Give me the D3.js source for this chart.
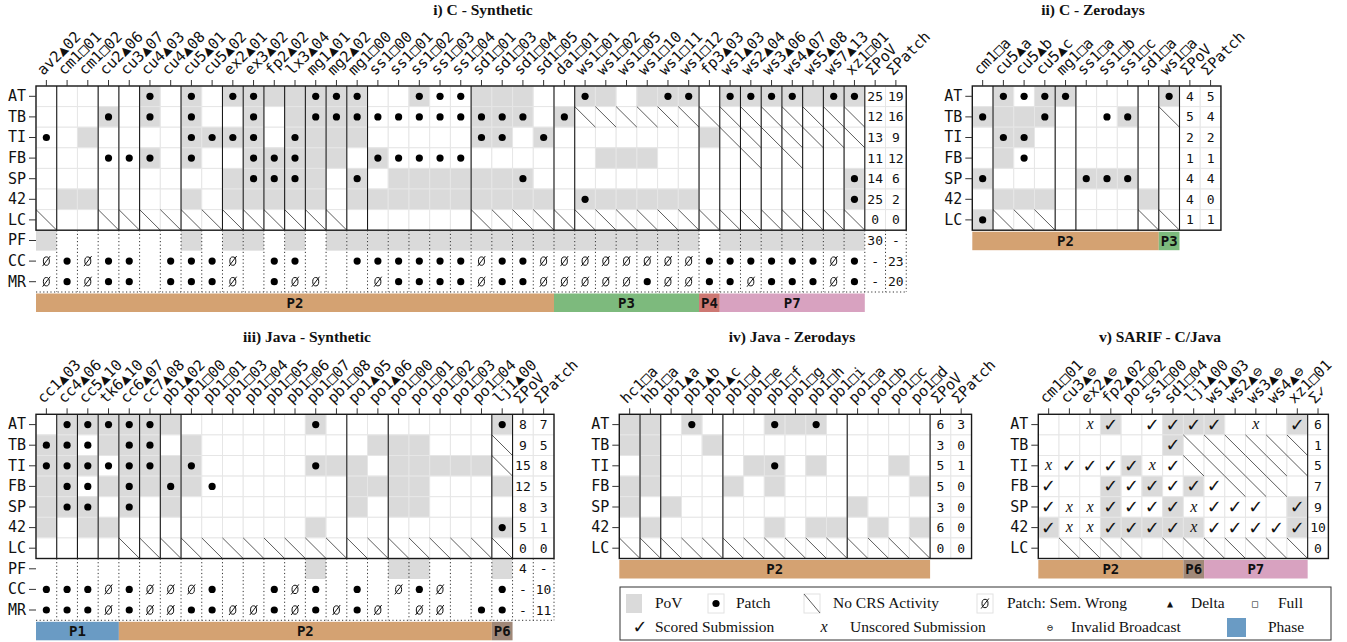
<!DOCTYPE html>
<html>
<head>
<meta charset="utf-8">
<script src="https://cdn.jsdelivr.net/npm/d3@7"></script>
<style>
  body { margin: 0; background: #fff; }
  text { font-family: "DejaVu Sans Mono", monospace; fill: #111; }
</style>
</head>
<body>
<svg id="chart" width="1347" height="642"></svg>
<script>
// rows shared by every panel
const rowsMain = ['AT', 'TB', 'TI', 'FB', 'SP', '42', 'LC'];
const rowsExtra = ['PF', 'CC', 'MR'];

// cell codes: . empty, g PoV, o patch, O PoV+patch, h no CRS activity,
// z patch semantically wrong, v/V scored (white/PoV), u/U unscored (white/PoV)

// i) C - Synthetic
const colsCSyn = ['av2▲02', 'cm1□01', 'cm1□02', 'cu2▲06', 'cu3▲07', 'cu4▲03', 'cu4▲08', 'cu5▲01', 'cu5▲02', 'ex2▲01',
  'ex3▲02', 'fp2▲02', 'lx3▲04', 'mg1▲01', 'mg2▲02', 'mg1□00', 'ss1□00', 'ss1□01', 'ss1□02', 'ss1□03',
  'ss1□04', 'sd1□01', 'sd1□03', 'sd1□04', 'sd1□05', 'da1□01', 'ws1□01', 'ws1□02', 'ws1□05', 'ws1□10',
  'ws1□11', 'ws1□12', 'fp3▲03', 'ws1▲03', 'ws2▲04', 'ws3▲06', 'ws4▲07', 'ws5▲08', 'ws7▲13', 'xz1□01'];
const cellsCSyn = [
  '.....O.O.O' + 'OggOOO..Oo' + 'oggg..Og.g' + 'OO.OOOOgOO',
  '...O.O.O..' + 'O.gOOOoooo' + 'oOOO.Ohhhh' + 'hhhhhhhhhh',
  'o.g....OOO' + 'O.Oggg....' + '.OO.O.....' + '..ghhhhhhh',
  '...ooO.O..' + 'OOOgg.Oooo' + 'o......ggg' + '....h.h...',
  '.........g' + 'OOOg.O.ggg' + 'gggO......' + '.........O',
  '.gg....g.g' + 'gggg.ggggg' + 'ggggg.Oggg' + 'gg.......O',
  'h..hhhhhhh' + 'hhhhh.....' + '.hhhhhhhhh' + 'hhhhhhhhhh'
];
const extraCSyn = [
  'g......g.g' + 'g.g.gggggg' + 'gggggggggg' + 'gg.ggggggg',
  'zozoo.oooz' + '.oo..ooooo' + 'ozoozzzzzz' + 'zzoooooozo',
  'zozoo.oooz' + '.ozz..zooo' + 'ozoozzzzzo' + 'zzoozooozo'
];
const povCSyn = [25, 12, 13, 11, 14, 25, 0, 30, '-', '-'];
const patchCSyn = [19, 16, 9, 12, 6, 2, 0, '-', 23, 20];
const phasesCSyn = [['P2', 25], ['P3', 7], ['P4', 1], ['P7', 7]];

// ii) C - Zerodays
const colsCZero = ['cm1□a', 'cu5▲a', 'cu5▲b', 'cu5▲c', 'mg1□a', 'ss1□a', 'ss1□b', 'ss1□c', 'sd1□a', 'ws1□a'];
const cellsCZero = ['.OoOO....O', 'OggO..oO.h', '.OO.......', '.go.......', 'O....OOO..', '.ggg....g.', 'Ohhh....hh'];
const povCZero = [4, 5, 2, 1, 4, 4, 1];
const patchCZero = [5, 4, 2, 1, 4, 0, 1];
const phasesCZero = [['P2', 9], ['P3', 1]];

// iii) Java - Synthetic
const colsJSyn = ['cc1▲03', 'cc4▲06', 'cc5▲10', 'tk6▲10', 'cc6▲07', 'cc7▲08', 'pb1▲02', 'pb1□00', 'pb1□01', 'pb1□03',
  'pb1□04', 'pb1□05', 'pb1□06', 'pb1□07', 'pb1□08', 'po1▲05', 'po1▲06', 'po1□00', 'po1□01', 'po1□02',
  'po1□03', 'po1□04', 'lj1▲00'];
const cellsJSyn = [
  '.OOOOOg...' + '...O......' + '..O',
  'OOogOO.g..' + '......ggg.' + '..h',
  'OOOoOOgO..' + '...Ogg.ggg' + 'ggh',
  'gOogOgOgo.' + '.....gggg.' + '..g',
  'gOO.O.g...' + '.....g.gg.' + '...',
  'g.gg......' + '...g......' + '..O',
  '....hhhhhh' + 'hhhhhhhhhh' + 'hhh'
];
const extraJSyn = [
  '..........' + '...g...gg.' + '..g',
  'ooozozzzo.' + '.ozo.o.zoz' + '..o',
  'ooozozzooz' + 'zozozoz.zz' + '.oo'
];
const povJSyn = [8, 9, 15, 12, 8, 5, 0, 4, '-', '-'];
const patchJSyn = [7, 5, 8, 5, 3, 1, 0, '-', 10, 11];
const phasesJSyn = [['P1', 4], ['P2', 18], ['P6', 1]];

// iv) Java - Zerodays
const colsJZero = ['hc1□a', 'hb1□a', 'pb1▲a', 'pb1▲b', 'pb1▲c', 'pb1□d', 'pb1□e', 'pb1□f', 'pb1□g', 'pb1□h',
  'pb1□i', 'po1□a', 'po1□b', 'po1□c', 'po1□d'];
const cellsJZero = ['gg.O...OgO.....', 'gg..g..........', '.g....gO.g...g.', 'gg...g.g......g',
  'g.g........g...', '.g.....g.gg.g.g', 'hhhhhhhhhhhhhhh'];
const povJZero = [6, 3, 5, 5, 3, 6, 0];
const patchJZero = [3, 0, 1, 0, 0, 0, 0];
const phasesJZero = [['P2', 15]];

// v) SARIF - C/Java
const colsSarif = ['cm1□01', 'cu3▲⊖', 'ex2▲⊖', 'fp2▲02', 'po1□02', 'ss1□00', 'sd1□04', 'lj1▲00', 'ws1▲03', 'ws2▲⊖',
  'ws3▲⊖', 'ws4▲⊖', 'xz1□01'];
const cellsSarif = ['..uV.vVVV.u.V', '......Vhhhhhh', 'uvvvVuvhhhhhh', 'v..VvVvVvhhh.',
  'vuuVvvVuvvv.V', 'VuuVVVVUvvvvV', '.hhhh.hhhhhhh'];
const scoredSarif = [6, 1, 5, 7, 9, 10, 0];
const phasesSarif = [['P2', 7], ['P6', 1], ['P7', 5]];

const svg = d3.select('#chart');
const CW = 20.72, RH = 20.6;
const GRAY = '#dadada', GRID = '#e6e6e6', INK = '#1a1a1a';
const SERIF = '"Liberation Serif", "Times New Roman", serif';
const phaseColor = { P1: '#6a9bc4', P2: '#d4a272', P3: '#7dba7d', P4: '#cd7873', P6: '#a08878', P7: '#d8a2c0' };
const groupKey = s => s.slice(0, s.search(/[▲□]/) + 1);

// slashed-zero mark for "patch: semantically wrong"
function emptySet(sel) {
  sel.append('ellipse').attr('rx', 3).attr('ry', 4.2)
    .attr('fill', 'none').attr('stroke', '#111').attr('stroke-width', 1);
  sel.append('line').attr('x1', -3.8).attr('y1', 5).attr('x2', 3.8).attr('y2', -5)
    .attr('stroke', '#111').attr('stroke-width', 1);
}
function check(sel, size) {
  sel.append('text').attr('text-anchor', 'middle').attr('y', 6).attr('font-size', size)
    .style('font-family', '"DejaVu Sans", sans-serif').text('✓');
}
function cross(sel) {
  sel.append('text').attr('text-anchor', 'middle').attr('y', 4.5).attr('font-size', 16)
    .attr('font-style', 'italic').style('font-family', SERIF).text('x');
}

function drawPanel(p) {
  const nc = p.cols.length;
  const labels = p.cols.concat(p.sumLabels);
  const nt = labels.length;
  const rows = p.extra ? rowsMain.concat(rowsExtra) : rowsMain;
  const x = d3.scaleBand().domain(d3.range(nt)).range([p.x0, p.x0 + nt * CW]);
  const y = d3.scaleBand().domain(rows).range([p.y0, p.y0 + rows.length * RH]);
  const xEnd = x.range()[1];
  const yTop = p.y0, yMid = y('LC') + y.bandwidth(), yBot = y.range()[1];
  const bw = x.bandwidth(), bh = y.bandwidth();
  const g = svg.append('g');
  const center = d => `translate(${x(d.i) + bw / 2},${y(d.row) + bh / 2})`;

  const cells = [];
  p.cells.concat(p.extra || []).forEach((s, r) =>
    [...s].forEach((c, i) => cells.push({ row: rows[r], i, c, top: r < rowsMain.length })));
  const sums = [];
  p.sums.forEach((col, j) => col.forEach((v, r) =>
    sums.push({ row: rows[r], i: nc + j, v, top: r < rowsMain.length })));

  g.append('g').selectAll('rect').data(cells.concat(sums)).join('rect')
    .attr('x', d => x(d.i)).attr('y', d => y(d.row))
    .attr('width', bw).attr('height', bh)
    .attr('fill', d => d.c && 'gOVU'.includes(d.c) ? GRAY : '#fff')
    .attr('stroke', d => d.top ? GRID : 'none');

  g.append('g').selectAll('line').data(cells.filter(d => d.c === 'h')).join('line')
    .attr('x1', d => x(d.i)).attr('y1', d => y(d.row))
    .attr('x2', d => x(d.i) + bw).attr('y2', d => y(d.row) + bh)
    .attr('stroke', '#4a4a4a').attr('stroke-width', 0.9);

  g.append('g').selectAll('circle').data(cells.filter(d => 'oO'.includes(d.c))).join('circle')
    .attr('cx', d => x(d.i) + bw / 2).attr('cy', d => y(d.row) + bh / 2)
    .attr('r', 3.6).attr('fill', '#000');

  g.append('g').selectAll('g').data(cells.filter(d => d.c === 'z')).join('g')
    .attr('transform', center).each(function () { emptySet(d3.select(this)); });

  g.append('g').selectAll('g').data(cells.filter(d => 'vV'.includes(d.c))).join('g')
    .attr('transform', center).each(function () { check(d3.select(this), 18); });

  g.append('g').selectAll('g').data(cells.filter(d => 'uU'.includes(d.c))).join('g')
    .attr('transform', center).each(function () { cross(d3.select(this)); });

  g.append('g').selectAll('text').data(sums).join('text')
    .attr('x', d => x(d.i) + bw / 2).attr('y', d => y(d.row) + bh / 2 + 4.5)
    .attr('text-anchor', 'middle').attr('font-size', 13).text(d => d.v);

  // group separators and the data / sum divider
  const seps = d3.range(1, nc)
    .filter(i => p.groups && groupKey(p.cols[i]) !== groupKey(p.cols[i - 1]))
    .concat([nc]);
  g.append('g').selectAll('line').data(seps).join('line')
    .attr('x1', i => x(i)).attr('x2', i => x(i)).attr('y1', yTop).attr('y2', yMid)
    .attr('stroke', INK).attr('stroke-width', 1.1);

  g.append('rect').attr('x', p.x0).attr('y', yTop)
    .attr('width', xEnd - p.x0).attr('height', yMid - yTop)
    .attr('fill', 'none').attr('stroke', INK).attr('stroke-width', 1.4);

  if (p.extra) {
    g.append('g').selectAll('line').data(d3.range(1, nt + 1)).join('line')
      .attr('x1', i => x(0) + i * x.step()).attr('x2', i => x(0) + i * x.step())
      .attr('y1', yMid).attr('y2', yBot)
      .attr('stroke', '#333').attr('stroke-dasharray', '1.2,2.4');
    g.append('line').attr('x1', p.x0).attr('x2', xEnd).attr('y1', yBot).attr('y2', yBot)
      .attr('stroke', '#333').attr('stroke-dasharray', '1.2,2.4');
  }

  // axes
  g.append('g').attr('transform', `translate(${p.x0},0)`)
    .call(d3.axisLeft(y).tickSize(7).tickPadding(3))
    .call(a => a.select('.domain').remove())
    .attr('font-family', '"DejaVu Sans Mono", monospace').attr('font-size', 15)
    .call(a => a.selectAll('line').attr('stroke', '#333'));

  g.append('g').attr('transform', `translate(0,${p.y0})`)
    .call(d3.axisTop(x).tickSize(6).tickFormat(i => labels[i]))
    .call(a => a.select('.domain').remove())
    .attr('font-family', '"DejaVu Sans Mono", monospace').attr('font-size', 15)
    .call(a => a.selectAll('line').attr('stroke', '#333'))
    .call(a => a.selectAll('text')
      .attr('text-anchor', 'start').attr('y', null).attr('dy', null)
      .attr('transform', 'translate(-3,-10) rotate(-45)'));

  // phases
  let acc = 0;
  const ph = p.phases.map(([name, n]) => { const d = { name, a: acc, b: acc + n }; acc += n; return d; });
  const py = yBot + 1.5, phH = 18.5;
  g.append('g').selectAll('rect').data(ph).join('rect')
    .attr('x', d => x(d.a)).attr('y', py)
    .attr('width', d => x(d.b) - x(d.a)).attr('height', phH)
    .attr('fill', d => phaseColor[d.name]);
  g.append('g').selectAll('text').data(ph).join('text')
    .attr('x', d => (x(d.a) + x(d.b)) / 2).attr('y', py + 14)
    .attr('text-anchor', 'middle').attr('font-size', 14).attr('font-weight', 'bold')
    .text(d => d.name);

  svg.append('text').attr('x', p.tx).attr('y', p.ty).attr('text-anchor', 'middle')
    .style('font-family', SERIF).attr('font-weight', 'bold').attr('font-size', 15.5)
    .text(p.title);
}

drawPanel({ title: 'i) C - Synthetic', tx: 483, ty: 15, x0: 36, y0: 86, cols: colsCSyn, cells: cellsCSyn,
  extra: extraCSyn, sums: [povCSyn, patchCSyn], sumLabels: ['ΣPoV', 'ΣPatch'], phases: phasesCSyn, groups: true });
drawPanel({ title: 'ii) C - Zerodays', tx: 1093, ty: 15, x0: 972.3, y0: 86, cols: colsCZero, cells: cellsCZero,
  extra: null, sums: [povCZero, patchCZero], sumLabels: ['ΣPoV', 'ΣPatch'], phases: phasesCZero, groups: true });
drawPanel({ title: 'iii) Java - Synthetic', tx: 307, ty: 342, x0: 36, y0: 414.3, cols: colsJSyn, cells: cellsJSyn,
  extra: extraJSyn, sums: [povJSyn, patchJSyn], sumLabels: ['ΣPoV', 'ΣPatch'], phases: phasesJSyn, groups: true });
drawPanel({ title: 'iv) Java - Zerodays', tx: 792, ty: 342, x0: 619.3, y0: 414.3, cols: colsJZero, cells: cellsJZero,
  extra: null, sums: [povJZero, patchJZero], sumLabels: ['ΣPoV', 'ΣPatch'], phases: phasesJZero, groups: true });
drawPanel({ title: 'v) SARIF - C/Java', tx: 1160, ty: 342, x0: 1038.3, y0: 414.3, cols: colsSarif, cells: cellsSarif,
  extra: null, sums: [scoredSarif], sumLabels: ['Σ✓'], phases: phasesSarif, groups: false });

// legend
const lg = svg.append('g');
lg.append('rect').attr('x', 620).attr('y', 587).attr('width', 711).attr('height', 53)
  .attr('fill', 'none').attr('stroke', '#333');
const box = (bx, fill) => lg.append('rect').attr('x', bx).attr('y', 594).attr('width', 16).attr('height', 19)
  .attr('fill', fill).attr('stroke', fill === GRAY ? 'none' : '#e2e2e2');
const ltext = (tx, ty, s) => lg.append('text').attr('x', tx).attr('y', ty)
  .style('font-family', SERIF).attr('font-size', 15.5).text(s);
const at = (ax, ay) => lg.append('g').attr('transform', `translate(${ax},${ay})`);

box(626, GRAY); ltext(655, 608, 'PoV');
box(708, '#fff'); lg.append('circle').attr('cx', 716).attr('cy', 603.5).attr('r', 3.6).attr('fill', '#000');
ltext(736, 608, 'Patch');
box(804, '#fff'); lg.append('line').attr('x1', 804).attr('y1', 594).attr('x2', 820).attr('y2', 613)
  .attr('stroke', '#4a4a4a').attr('stroke-width', 0.9);
ltext(833, 608, 'No CRS Activity');
box(977, '#fff'); emptySet(at(985, 603.5));
ltext(1007, 608, 'Patch: Sem. Wrong');
lg.append('text').attr('x', 1170).attr('y', 607).attr('text-anchor', 'middle').attr('font-size', 10).text('▲');
ltext(1191, 608, 'Delta');
lg.append('text').attr('x', 1255).attr('y', 607).attr('text-anchor', 'middle').attr('font-size', 10).text('□');
ltext(1278, 608, 'Full');

check(at(640, 627), 18);
ltext(655, 632, 'Scored Submission');
cross(at(824, 627));
ltext(850, 632, 'Unscored Submission');
lg.append('text').attr('x', 1050).attr('y', 631).attr('text-anchor', 'middle').attr('font-size', 10).text('⊖');
ltext(1071, 632, 'Invalid Broadcast');
lg.append('rect').attr('x', 1227).attr('y', 618).attr('width', 19).attr('height', 19).attr('fill', phaseColor.P1);
ltext(1268, 632, 'Phase');
</script>
</body>
</html>
